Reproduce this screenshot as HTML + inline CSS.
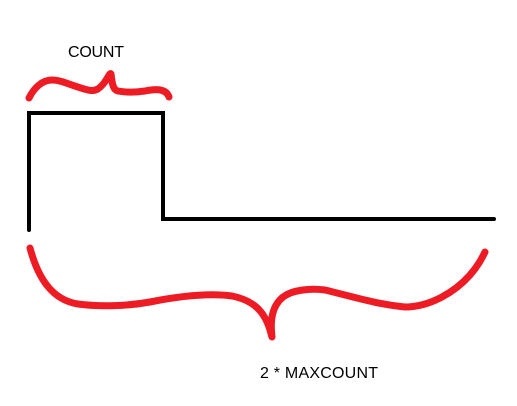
<!DOCTYPE html>
<html><head><meta charset="utf-8"><style>
html,body{margin:0;padding:0;background:#fff;width:517px;height:406px;overflow:hidden}
svg{display:block}
text{font-family:"Liberation Sans",sans-serif;font-size:16px;fill:#000}
</style></head><body>
<svg width="517" height="406" viewBox="0 0 517 406">
<text x="68" y="57" textLength="56">COUNT</text>
<path d="M29,98 C34,88 42,80 52,80 C62,80 72,86 88,90 C96,92 100,88 104,83 C108,78 110,72 111,74 C112,80 112,90 118,91 C128,93 138,92 145,91 C155,89 166,88 169,97" fill="none" stroke="#ed1c24" stroke-width="7" stroke-linecap="round" stroke-linejoin="round"/>
<path d="M29,230 L29,113 L163,113 L163,219 L494,219" fill="none" stroke="#000" stroke-width="4" stroke-linecap="round" stroke-linejoin="miter"/>
<path d="M30,248 C38,278 52,300 78,304 C100,307 128,306 150,302 C180,296 210,293 232,296 C252,300 264,310 270,330 L272,337 C270,320 272,306 283,297 C292,290 310,288 325,290 C350,296 380,305 405,307 C430,307 455,292 470,275 C478,266 482,258 485,252" fill="none" stroke="#ed1c24" stroke-width="7" stroke-linecap="round" stroke-linejoin="round"/>
<text x="260" y="378" textLength="118">2 * MAXCOUNT</text>
</svg>
</body></html>
